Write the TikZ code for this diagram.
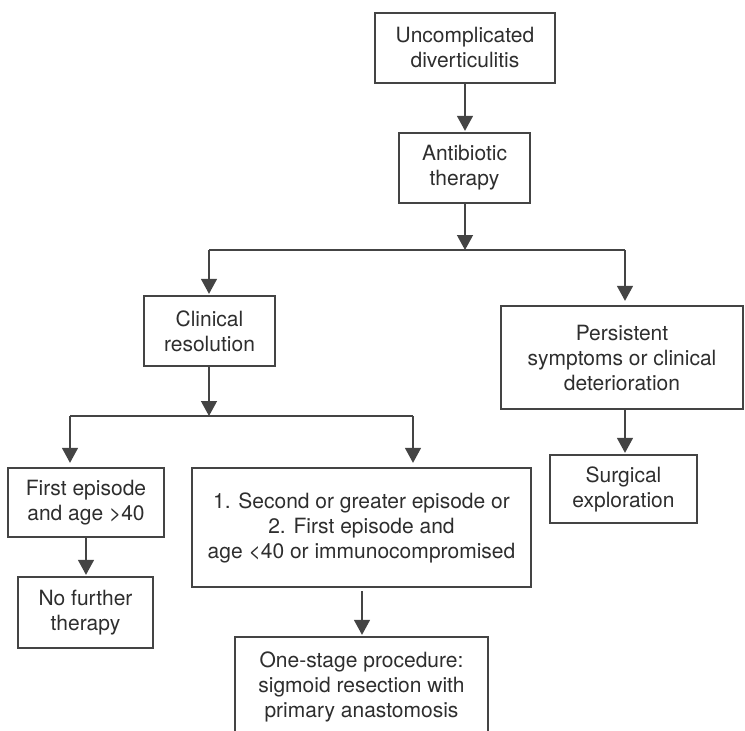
\documentclass[tikz,border=0pt]{standalone}
\usepackage{fontspec}
\setmainfont{TeX Gyre Heros}
\usetikzlibrary{arrows.meta}
\definecolor{ink}{HTML}{2E2E2E}
\definecolor{rule}{HTML}{444444}
\begin{document}
\begin{tikzpicture}[x=1pt,y=-1pt,
  box/.style={draw=rule, line width=1.3pt, rectangle, inner sep=0pt,
    align=center, text=ink, font=\fontsize{21}{25}\selectfont},
  link/.style={draw=rule, line width=1.3pt},
  flow/.style={link, -{Triangle[width=16pt,length=15pt]}, shorten >=1.5pt},
  flowgap/.style={flow, shorten >=4.5pt}]
\useasboundingbox (0,0) rectangle (745,731);
\fill[white] (0,0) rectangle (745,731);
\clip (0,0) rectangle (745,731);

% boxes
\node[box, minimum width=180pt, minimum height=70pt] (start) at (465,48)
  {Uncomplicated\\diverticulitis};
\node[box, minimum width=131pt, minimum height=70pt] (abx) at (464.5,168)
  {Antibiotic\\therapy};
\node[box, minimum width=131pt, minimum height=70pt] (resolved) at (209.5,331)
  {Clinical\\resolution};
\node[box, minimum width=242pt, minimum height=103pt] (persist) at (622,357.5)
  {Persistent\\symptoms or clinical\\deterioration};
\node[box, minimum width=147pt, minimum height=68pt] (surgery) at (623.5,489)
  {Surgical\\exploration};
\node[box, minimum width=156pt, minimum height=69pt] (first) at (86,502.5)
  {First episode\\and age >40};
\node[box, minimum width=135pt, minimum height=71pt] (nothing) at (85.5,612.5)
  {No further\\therapy};
\node[box, minimum width=339pt, minimum height=119pt] (recur) at (361.5,527.5)
  {1. Second or greater episode or\\2. First episode and\\age <40 or immunocompromised};
\node[box, minimum width=253pt, minimum height=100pt] (resect) at (361.5,687)
  {One-stage procedure:\\sigmoid resection with\\primary anastomosis};

% branch points
\coordinate (splitA) at (465,250);
\coordinate (splitAL) at (209,250);
\coordinate (splitAR) at (625,250);
\coordinate (splitB) at (209,416);
\coordinate (splitBL) at (70,416);
\coordinate (splitBR) at (413,416);
\coordinate (recurOut) at (362,591);

% connectors
\draw[flow] (start.south) -- (abx.north -| start.south);
\draw[flow, shorten >=0pt] (abx.south -| splitA) -- (splitA);
\draw[link] (splitAL) -- (splitAR);
\draw[flow] (splitAL) -- (splitAL |- resolved.north);
\draw[flowgap] (splitAR) -- (splitAR |- persist.north);

\draw[flow, shorten >=0pt] (resolved.south -| splitB) -- (splitB);
\draw[link] (splitBL) -- (splitBR);
\draw[flowgap] (splitBL) -- (splitBL |- first.north);
\draw[flowgap] (splitBR) -- (splitBR |- recur.north);

\draw[flow] (first.south) -- (nothing.north -| first.south);
\draw[flow] (persist.south -| splitAR) -- (surgery.north -| splitAR);
\draw[flow] (recurOut) -- (recurOut |- resect.north);
\end{tikzpicture}
\end{document}
